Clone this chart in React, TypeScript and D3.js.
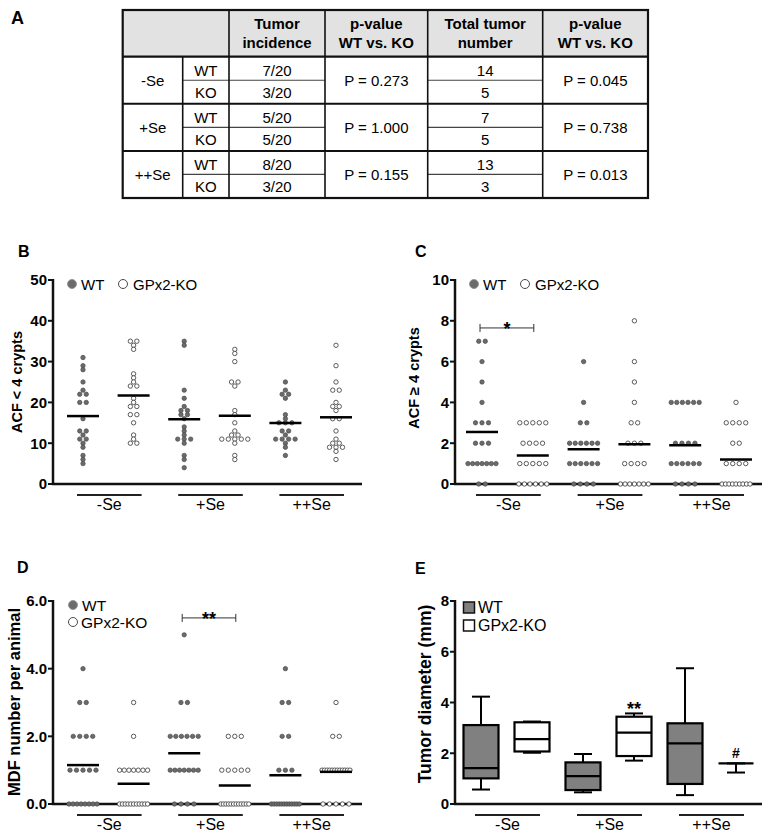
import React from 'react';
import * as d3 from 'd3';

const FONT = "'Liberation Sans', Arial, Helvetica, sans-serif";

// ---------- Panel A (table) ----------
const tableHeaderLines = [
  ['Tumor', 'incidence'],
  ['p-value', 'WT vs. KO'],
  ['Total tumor', 'number'],
  ['p-value', 'WT vs. KO'],
];
const dietGroups = ['-Se', '+Se', '++Se'];
const genotypeRows = ['WT', 'KO'];
const tumorIncidence = [['7/20', '3/20'], ['5/20', '5/20'], ['8/20', '3/20']];
const incidenceP = ['P = 0.273', 'P = 1.000', 'P = 0.155'];
const tumorNumber = [['14', '5'], ['7', '5'], ['13', '3']];
const numberP = ['P = 0.045', 'P = 0.738', 'P = 0.013'];

// ---------- Shared categories ----------
const columnGenotype = ['WT', 'KO', 'WT', 'KO', 'WT', 'KO'];
const seriesLabels = ['WT', 'GPx2-KO'];

// ---------- Panel B: ACF < 4 crypts ----------
const acfLess4 = [
  [31, 29, 28, 25, 23, 22, 22, 20, 20, 16, 13, 13, 12, 11, 11, 10, 9, 7, 6, 5],
  [35, 35, 34, 33, 27, 26, 25, 24, 24, 21, 20, 19, 19, 17, 17, 15, 12, 11, 10, 10],
  [35, 34, 23, 21, 19, 18, 18, 17, 17, 16, 14, 13, 12, 11, 11, 11, 10, 7, 6, 4],
  [33, 32, 30, 25, 25, 24, 18, 17, 15, 13, 12, 12, 11, 11, 11, 11, 11, 10, 7, 6],
  [25, 23, 22, 22, 21, 17, 16, 15, 15, 15, 13, 13, 12, 11, 11, 11, 11, 10, 9, 7],
  [34, 29, 25, 23, 23, 20, 19, 19, 18, 16, 16, 13, 11, 10, 10, 9, 9, 9, 8, 6],
];
const acfLess4Ticks = [0, 10, 20, 30, 40, 50];

// ---------- Panel C: ACF >= 4 crypts ----------
const acfGe4 = [
  [7, 7, 6, 5, 4, 3, 3, 3, 2, 2, 2, 1, 1, 1, 1, 1, 1, 1, 0, 0],
  [3, 3, 3, 3, 3, 2, 2, 2, 2, 1, 1, 1, 1, 1, 0, 0, 0, 0, 0, 0],
  [6, 4, 3, 3, 2, 2, 2, 2, 2, 2, 1, 1, 1, 1, 1, 1, 0, 0, 0, 0],
  [8, 6, 5, 4, 3, 3, 2, 2, 2, 1, 1, 1, 1, 0, 0, 0, 0, 0, 0, 0],
  [4, 4, 4, 4, 4, 4, 2, 2, 2, 2, 1, 1, 1, 1, 1, 1, 0, 0, 0, 0],
  [4, 3, 3, 3, 3, 2, 2, 1, 1, 1, 1, 0, 0, 0, 0, 0, 0, 0, 0, 0],
];
const acfGe4Ticks = [0, 2, 4, 6, 8, 10];
const acfGe4Sig = { from: 0, to: 1, level: 7.65, label: '*' };

// ---------- Panel D: MDF per animal ----------
const mdfPerAnimal = [
  [4, 3, 3, 2, 2, 2, 2, 1, 1, 1, 1, 1, 0, 0, 0, 0, 0, 0, 0, 0],
  [3, 2, 1, 1, 1, 1, 1, 1, 1, 0, 0, 0, 0, 0, 0, 0, 0, 0, 0, 0],
  [5, 3, 3, 2, 2, 2, 2, 2, 2, 1, 1, 1, 1, 1, 1, 1, 0, 0, 0, 0],
  [2, 2, 2, 1, 1, 1, 1, 1, 0, 0, 0, 0, 0, 0, 0, 0, 0, 0, 0, 0],
  [4, 3, 3, 2, 2, 1, 1, 1, 0, 0, 0, 0, 0, 0, 0, 0, 0, 0, 0, 0],
  [3, 2, 2, 1, 1, 1, 1, 1, 1, 1, 1, 1, 1, 1, 1, 0, 0, 0, 0, 0],
];
const mdfTicks = [0, 2, 4, 6];
const mdfSig = { from: 2, to: 3, level: 5.5, label: '**' };

// ---------- Panel E: tumor diameter boxes ----------
const diameterMin = [0.57, 2.02, 0.46, 1.71, 0.35, 1.24];
const diameterQ1 = [1.01, 2.07, 0.55, 1.89, 0.79, 1.6];
const diameterMedian = [1.41, 2.56, 1.1, 2.81, 2.39, 1.6];
const diameterQ3 = [3.11, 3.22, 1.64, 3.44, 3.18, 1.6];
const diameterMax = [4.23, 3.25, 1.97, 3.57, 5.35, 1.6];
const diameterTicks = [0, 2, 4, 6, 8];
const diameterMarks = ['', '', '', '**', '', '#'];

const WT_FILL = '#6b6b6b';
const WT_STROKE = '#4a4a4a';
const KO_STROKE = '#4a4a4a';
const BOX_WT = '#808080';

type PanelCfg = {
  letter: string;
  axisX: number;
  right: number;
  top: number;
  bottom: number;
  colStart: number;
  colEnd: number;
  max: number;
  ticks: number[];
  fmt: (v: number) => string;
  title: string;
  titleSize: number;
  titleX: number;
  titleY: number;
  labelX: number;
  labelY: number;
};

function swarm(values: number[], spacing = 6.5, maxSpan = 28) {
  const groups = d3.group(values.map((v, i) => ({ v, i })), (d) => d.v);
  const offs = new Array(values.length).fill(0);
  groups.forEach((arr) => {
    const n = arr.length;
    const s = n > 1 ? Math.min(spacing, maxSpan / (n - 1)) : 0;
    arr.forEach((d, k) => {
      offs[d.i] = (k - (n - 1) / 2) * s;
    });
  });
  return offs;
}

function Axes({ cfg }: { cfg: PanelCfg }) {
  const y = d3.scaleLinear().domain([0, cfg.max]).range([cfg.bottom, cfg.top]);
  const x = d3.scaleLinear().domain([0, 5]).range([cfg.colStart, cfg.colEnd]);
  return (
    <g>
      <text x={cfg.labelX} y={cfg.labelY} fontSize={16} fontWeight="bold">{cfg.letter}</text>
      <line x1={cfg.axisX} x2={cfg.axisX} y1={cfg.top - 1} y2={cfg.bottom} stroke="#111" strokeWidth={2.5} />
      <line x1={cfg.axisX - 1} x2={cfg.right} y1={cfg.bottom} y2={cfg.bottom} stroke="#111" strokeWidth={2.5} />
      {cfg.ticks.map((t) => (
        <g key={t}>
          <line x1={cfg.axisX - 5} x2={cfg.axisX} y1={y(t)} y2={y(t)} stroke="#111" strokeWidth={2} />
          <text x={cfg.axisX - 6} y={y(t)} dy="0.36em" textAnchor="end" fontSize={15} fontWeight="bold">{cfg.fmt(t)}</text>
        </g>
      ))}
      <text
        transform={`translate(${cfg.titleX},${cfg.titleY}) rotate(-90)`}
        textAnchor="middle"
        fontSize={cfg.titleSize}
        fontWeight="bold"
      >
        {cfg.title}
      </text>
      {dietGroups.map((g, gi) => {
        const x1 = x(gi * 2) - 6;
        const x2 = x(gi * 2 + 1) + 8;
        return (
          <g key={g}>
            <line x1={x1} x2={x2} y1={cfg.bottom + 11} y2={cfg.bottom + 11} stroke="#222" strokeWidth={2} />
            <text x={(x1 + x2) / 2} y={cfg.bottom + 26} textAnchor="middle" fontSize={16}>{g}</text>
          </g>
        );
      })}
    </g>
  );
}

function Sig({ cfg, sig, y, x }: any) {
  const x1 = x(sig.from) - 2;
  const x2 = x(sig.to) + 1;
  const yy = y(sig.level);
  return (
    <g>
      <line x1={x1} x2={x2} y1={yy} y2={yy} stroke="#333" strokeWidth={1} />
      <line x1={x1} x2={x1} y1={yy - 4} y2={yy + 4} stroke="#333" strokeWidth={1} />
      <line x1={x2} x2={x2} y1={yy - 4} y2={yy + 4} stroke="#333" strokeWidth={1} />
      <text x={(x1 + x2) / 2} y={yy + 7} textAnchor="middle" fontSize={18} fontWeight="bold">{sig.label}</text>
    </g>
  );
}

function ScatterPanel({ cfg, data, sig, legend }: { cfg: PanelCfg; data: number[][]; sig?: any; legend: 'row' | 'col' }) {
  const y = d3.scaleLinear().domain([0, cfg.max]).range([cfg.bottom, cfg.top]);
  const x = d3.scaleLinear().domain([0, 5]).range([cfg.colStart, cfg.colEnd]);
  const lx = cfg.axisX + 19;
  return (
    <g>
      <Axes cfg={cfg} />
      {legend === 'row' ? (
        <g>
          <circle cx={lx} cy={cfg.top + 4} r={4.5} fill={WT_FILL} stroke="#999" strokeWidth={1} />
          <text x={lx + 9} y={cfg.top + 9.5} fontSize={15}>{seriesLabels[0]}</text>
          <circle cx={lx + 51} cy={cfg.top + 4} r={4.5} fill="#fff" stroke={KO_STROKE} strokeWidth={1} />
          <text x={lx + 61} y={cfg.top + 9.5} fontSize={15}>{seriesLabels[1]}</text>
        </g>
      ) : (
        <g>
          <circle cx={lx + 1} cy={cfg.top + 4} r={4.5} fill={WT_FILL} stroke="#999" strokeWidth={1} />
          <text x={lx + 10} y={cfg.top + 9.5} fontSize={15.5}>{seriesLabels[0]}</text>
          <circle cx={lx + 1} cy={cfg.top + 21} r={4.5} fill="#fff" stroke={KO_STROKE} strokeWidth={1} />
          <text x={lx + 9} y={cfg.top + 26.5} fontSize={15.5}>{seriesLabels[1]}</text>
        </g>
      )}
      {data.map((vals, ci) => {
        const offs = swarm(vals);
        const wt = columnGenotype[ci] === 'WT';
        const m = d3.mean(vals) as number;
        return (
          <g key={ci}>
            {vals.map((v, k) => (
              <circle
                key={k}
                cx={x(ci) + offs[k]}
                cy={y(v)}
                r={2.2}
                fill={wt ? WT_FILL : '#fff'}
                stroke={wt ? WT_STROKE : KO_STROKE}
                strokeWidth={wt ? 0.7 : 0.9}
              />
            ))}
            <line x1={x(ci) - 16} x2={x(ci) + 16} y1={y(m)} y2={y(m)} stroke="#000" strokeWidth={2.5} />
          </g>
        );
      })}
      {sig && <Sig cfg={cfg} sig={sig} x={x} y={y} />}
    </g>
  );
}

function BoxPanel({ cfg }: { cfg: PanelCfg }) {
  const y = d3.scaleLinear().domain([0, cfg.max]).range([cfg.bottom, cfg.top]);
  const x = d3.scaleLinear().domain([0, 5]).range([cfg.colStart, cfg.colEnd]);
  const bw = 35;
  const cw = 18;
  const lx = cfg.axisX + 8.5;
  return (
    <g>
      <Axes cfg={cfg} />
      <rect x={lx} y={cfg.top + 1} width={11} height={11} fill={BOX_WT} stroke="#111" strokeWidth={1.5} />
      <text x={lx + 14.5} y={cfg.top + 12} fontSize={16}>{seriesLabels[0]}</text>
      <rect x={lx} y={cfg.top + 19} width={11} height={11} fill="#fff" stroke="#111" strokeWidth={1.5} />
      <text x={lx + 14.5} y={cfg.top + 30} fontSize={16}>{seriesLabels[1]}</text>
      {diameterMedian.map((med, i) => {
        const cx = x(i);
        const wt = columnGenotype[i] === 'WT';
        return (
          <g key={i}>
            <line x1={cx} x2={cx} y1={y(diameterMax[i])} y2={y(diameterQ3[i])} stroke="#000" strokeWidth={2} />
            <line x1={cx} x2={cx} y1={y(diameterQ1[i])} y2={y(diameterMin[i])} stroke="#000" strokeWidth={2} />
            <line x1={cx - cw / 2} x2={cx + cw / 2} y1={y(diameterMax[i])} y2={y(diameterMax[i])} stroke="#000" strokeWidth={2} />
            <line x1={cx - cw / 2} x2={cx + cw / 2} y1={y(diameterMin[i])} y2={y(diameterMin[i])} stroke="#000" strokeWidth={2} />
            <rect
              x={cx - bw / 2}
              y={y(diameterQ3[i])}
              width={bw}
              height={Math.max(0, y(diameterQ1[i]) - y(diameterQ3[i]))}
              fill={wt ? BOX_WT : '#fff'}
              stroke="#000"
              strokeWidth={2.2}
            />
            <line x1={cx - bw / 2} x2={cx + bw / 2} y1={y(med)} y2={y(med)} stroke="#000" strokeWidth={2.2} />
            {diameterMarks[i] === '**' && (
              <text x={cx} y={y(diameterMax[i]) + 2} textAnchor="middle" fontSize={18} fontWeight="bold">**</text>
            )}
            {diameterMarks[i] === '#' && (
              <text x={cx} y={y(diameterMax[i]) - 5} textAnchor="middle" fontSize={14} fontWeight="bold">#</text>
            )}
          </g>
        );
      })}
    </g>
  );
}

function TablePanel() {
  const left = 122.7;
  const right = 648;
  const top = 10;
  const headBottom = 56.7;
  const rowH = 47.1;
  const colX = [122.7, 182.7, 229, 325, 427.7, 542.7, 648];
  const bottom = headBottom + rowH * 3;
  const fs = 15;
  const mid = (a: number, b: number) => (a + b) / 2;
  return (
    <g>
      <text x={11} y={24} fontSize={18} fontWeight="bold">A</text>
      <rect x={left} y={top} width={right - left} height={headBottom - top} fill="#e2e2e2" />
      {tableHeaderLines.map((lines, i) => (
        <g key={i}>
          {lines.map((l, k) => (
            <text key={k} x={mid(colX[i + 2], colX[i + 3])} y={top + 18.5 + k * 19} textAnchor="middle" fontSize={fs} fontWeight="bold">{l}</text>
          ))}
        </g>
      ))}
      {dietGroups.map((g, gi) => {
        const gt = headBottom + gi * rowH;
        const gm = gt + rowH / 2;
        return (
          <g key={g}>
            <text x={mid(colX[0], colX[1])} y={gm + 5.3} textAnchor="middle" fontSize={fs}>{g}</text>
            {genotypeRows.map((r, ri) => {
              const cy = gt + (ri === 0 ? 13.5 : 35.6);
              return (
                <g key={r}>
                  <text x={mid(colX[1], colX[2])} y={cy + 5.3} textAnchor="middle" fontSize={fs}>{r}</text>
                  <text x={mid(colX[2], colX[3])} y={cy + 5.3} textAnchor="middle" fontSize={fs}>{tumorIncidence[gi][ri]}</text>
                  <text x={mid(colX[4], colX[5])} y={cy + 5.3} textAnchor="middle" fontSize={fs}>{tumorNumber[gi][ri]}</text>
                </g>
              );
            })}
            <text x={mid(colX[3], colX[4])} y={gm + 5.3} textAnchor="middle" fontSize={fs}>{incidenceP[gi]}</text>
            <text x={mid(colX[5], colX[6])} y={gm + 5.3} textAnchor="middle" fontSize={fs}>{numberP[gi]}</text>
            <line x1={colX[1]} x2={colX[3]} y1={gm} y2={gm} stroke="#444" strokeWidth={1.2} />
            <line x1={colX[4]} x2={colX[5]} y1={gm} y2={gm} stroke="#444" strokeWidth={1.2} />
            {gi > 0 && <line x1={left} x2={right} y1={gt} y2={gt} stroke="#111" strokeWidth={2} />}
          </g>
        );
      })}
      <line x1={left} x2={right} y1={headBottom} y2={headBottom} stroke="#111" strokeWidth={2.2} />
      {colX.slice(2, 6).map((cx) => (
        <line key={cx} x1={cx} x2={cx} y1={top} y2={bottom} stroke="#111" strokeWidth={1.6} />
      ))}
      <line x1={colX[1]} x2={colX[1]} y1={headBottom} y2={bottom} stroke="#111" strokeWidth={1.6} />
      <rect x={left} y={top} width={right - left} height={bottom - top} fill="none" stroke="#111" strokeWidth={2.2} />
    </g>
  );
}

const panelB: PanelCfg = {
  letter: 'B', axisX: 53, right: 362, top: 280, bottom: 484, colStart: 83, colEnd: 336,
  max: 50, ticks: acfLess4Ticks, fmt: (v) => String(v), title: 'ACF < 4 crypts', titleSize: 14.5,
  titleX: 22, titleY: 382, labelX: 18, labelY: 257,
};
const panelC: PanelCfg = {
  letter: 'C', axisX: 455, right: 762, top: 280, bottom: 484, colStart: 482, colEnd: 736,
  max: 10, ticks: acfGe4Ticks, fmt: (v) => String(v), title: 'ACF \u2265 4 crypts', titleSize: 14.5,
  titleX: 419, titleY: 378, labelX: 415, labelY: 257,
};
const panelD: PanelCfg = {
  letter: 'D', axisX: 53, right: 362, top: 601, bottom: 804, colStart: 83, colEnd: 336,
  max: 6, ticks: mdfTicks, fmt: (v) => d3.format('.1f')(v), title: 'MDF number per animal', titleSize: 16.5,
  titleX: 19.5, titleY: 702, labelX: 17, labelY: 573,
};
const panelE: PanelCfg = {
  letter: 'E', axisX: 455, right: 762, top: 601, bottom: 804, colStart: 481, colEnd: 736,
  max: 8, ticks: diameterTicks, fmt: (v) => String(v), title: 'Tumor diameter (mm)', titleSize: 17.5,
  titleX: 431, titleY: 694, labelX: 415, labelY: 574,
};

export default function App() {
  return (
    <svg
      width={766}
      height={834}
      viewBox="0 0 766 834"
      style={{ position: 'absolute', left: 0, top: 0, background: '#fff' }}
      fontFamily={FONT}
    >
      <rect width={766} height={834} fill="#fff" />
      <TablePanel />
      <ScatterPanel cfg={panelB} data={acfLess4} legend="row" />
      <ScatterPanel cfg={panelC} data={acfGe4} legend="row" sig={acfGe4Sig} />
      <ScatterPanel cfg={panelD} data={mdfPerAnimal} legend="col" sig={mdfSig} />
      <BoxPanel cfg={panelE} />
    </svg>
  );
}
